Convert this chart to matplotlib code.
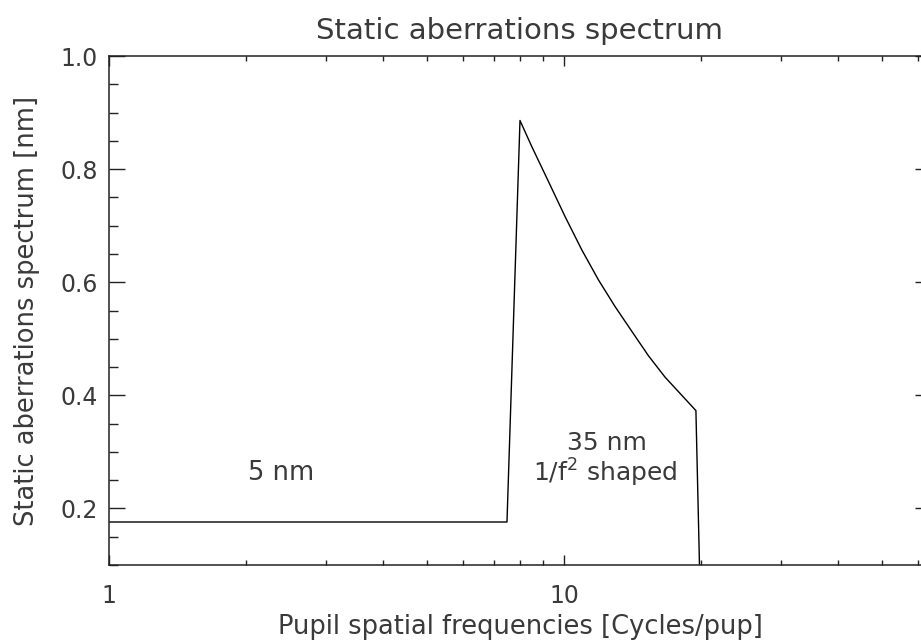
import numpy as np
import matplotlib
matplotlib.use('Agg')
import matplotlib.pyplot as plt
from matplotlib.ticker import FixedLocator, NullFormatter, MultipleLocator

# values
freq = [1.0, 7.49, 8.0, 8.49, 9.24, 10.05, 10.94, 11.90, 12.94, 14.09,
        15.32, 16.67, 18.14, 19.48, 19.9]
spec = [0.176, 0.176, 0.886, 0.840, 0.778, 0.716, 0.657, 0.604, 0.557, 0.513,
        0.470, 0.432, 0.400, 0.373, 0.05]

x_labels = ['1', '10']
y_major = [0.2, 0.4, 0.6, 0.8, 1.0]

fig = plt.figure(figsize=(9.21, 6.44), dpi=100)
ax = fig.add_axes([0.1183, 0.1227, 0.8926, 0.7903])

ink = '#222222'
txt = '#3a3a3a'
ax.plot(freq, spec, color='black', lw=1.0)

ax.set_xscale('log')
ax.set_xlim(1, 64)
ax.set_ylim(0.1, 1.0)

ax.xaxis.set_major_locator(FixedLocator([1, 10]))
ax.set_xticklabels(x_labels)
minors = [v*d for d in (1, 10) for v in range(2, 10)]
ax.xaxis.set_minor_locator(FixedLocator(minors))
ax.xaxis.set_minor_formatter(NullFormatter())

ax.yaxis.set_major_locator(FixedLocator(y_major))
ax.set_yticklabels(['%.1f' % v for v in y_major])
ax.yaxis.set_minor_locator(MultipleLocator(0.05))

ax.tick_params(axis='both', which='both', direction='in', top=True, right=True,
               color=ink, width=1.0, labelcolor=txt, labelsize=17)
ax.tick_params(axis='x', which='major', length=7.2, pad=14)
ax.tick_params(axis='x', which='minor', length=3.6)
ax.tick_params(axis='y', which='major', length=11.5, pad=8)
ax.tick_params(axis='y', which='minor', length=6.5)
for s in ax.spines.values():
    s.set_color(ink)
    s.set_linewidth(1.1)

ax.set_title('Static aberrations spectrum', fontsize=21, color=txt, pad=12)
ax.set_xlabel('Pupil spatial frequencies [Cycles/pup]', fontsize=18.5, color=txt, labelpad=4)
ax.set_ylabel('Static aberrations spectrum [nm]', fontsize=18.5, color=txt, labelpad=15)

ax.text(2.39, 0.263, '5 nm', ha='center', va='center', fontsize=18.5, color=txt)
ax.text(12.4, 0.316, '35 nm', ha='center', va='center', fontsize=18, color=txt)
ax.text(12.3, 0.262, r'1/f$^2$ shaped', ha='center', va='center', fontsize=18, color=txt)

fig.savefig('out.png', dpi=100)
